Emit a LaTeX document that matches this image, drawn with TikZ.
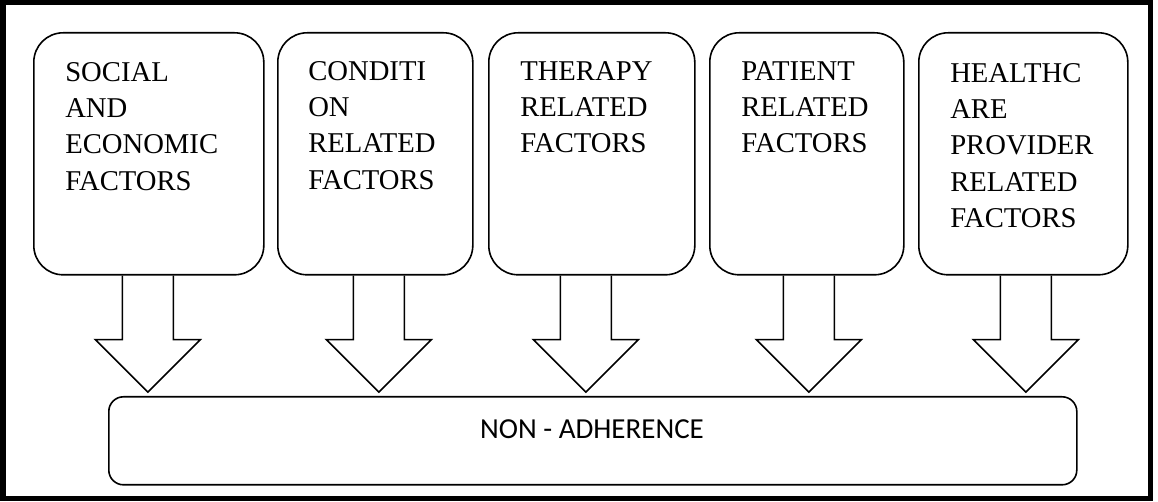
\documentclass[tikz,border=0pt]{standalone}
\usepackage{fontspec}
\setmainfont{Liberation Serif}
\newfontfamily\calibri{Carlito}
\usetikzlibrary{positioning}

\tikzset{
  factor/.style={draw, line width=1.2pt, rounded corners=22pt, minimum height=181.5pt, inner sep=0pt, anchor=north west},
  factortext/.style={anchor=north west, inner sep=0pt, align=left, font=\fontsize{21.5}{27.2}\selectfont},
  fatarrow/.style={draw, line width=1.2pt, line join=miter},
}

\begin{document}
\begin{tikzpicture}[x=0.75pt, y=-0.75pt]
            \useasboundingbox (0,0) rectangle (1158,502);
            \draw[line width=3.75pt] (3,3) rectangle (1150.5,499);

            \node[factor, minimum width=172.5pt] (social) at (33,32) {};
            \node[factor, minimum width=146.25pt] (condition) [right=9.3pt of social] {};
            \node[factor, minimum width=154.5pt] (therapy) [right=10.8pt of condition] {};
            \node[factor, minimum width=145.5pt] (patient) [right=10.05pt of therapy] {};
            \node[factor, minimum width=156.75pt] (provider) [right=10.05pt of patient] {};

            \node[factortext] (socialtext) at ([shift={(32,30)}]social.north west) {SOCIAL\\AND\\ECONOMIC\\FACTORS};
            \node[factortext] (conditiontext) at ([shift={(31,29)}]condition.north west) {CONDITI\\ON\\RELATED\\FACTORS};
            \node[factortext] (therapytext) at ([shift={(32,29)}]therapy.north west) {THERAPY\\RELATED\\FACTORS};
            \node[factortext] (patienttext) at ([shift={(32,29)}]patient.north west) {PATIENT\\RELATED\\FACTORS};
            \node[factortext] (providertext) at ([shift={(32,31)}]provider.north west) {HEALTHC\\ARE\\PROVIDER\\RELATED\\FACTORS};

            \node[draw, line width=1.2pt, rounded corners=11pt, minimum width=726pt, minimum height=66pt, inner sep=0pt, anchor=north west] (nonadherence) at (108,396) {};
            \node[font=\calibri\fontsize{21.75}{26}\selectfont, anchor=base, inner sep=0pt] (nonadherencetext) at (592,439) {NON - ADHERENCE};

            \foreach \b/\dx in {social/-1, condition/3.5, therapy/-6, patient/2, provider/2.5}
              \draw[fatarrow] ([xshift=\dx*0.75pt]\b.south) ++(-25.5,0) -- ++(0,64) -- ++(-27,0)
                -- ++(52.5,52.5) -- ++(52.5,-52.5) -- ++(-27,0) -- ++(0,-64);
        \end{tikzpicture}
\end{document}
